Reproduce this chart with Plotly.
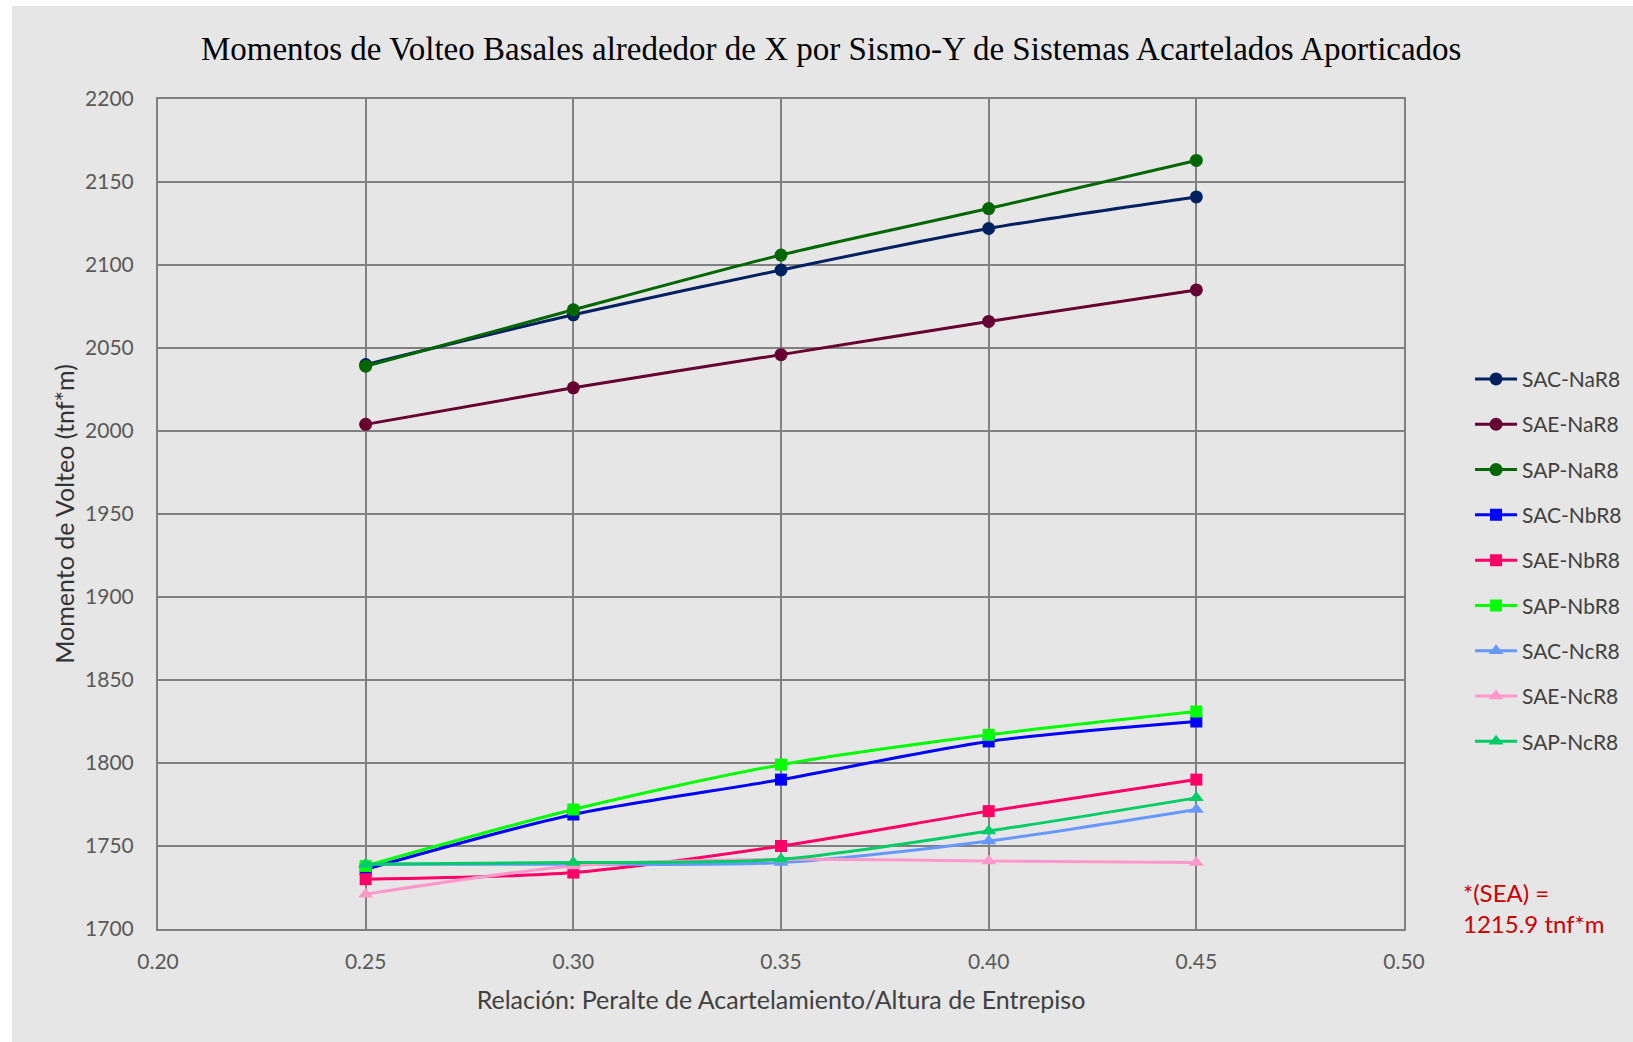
import plotly.graph_objects as go

# Relación peralte de acartelamiento / altura de entrepiso
relacion = [0.25, 0.30, 0.35, 0.40, 0.45]

# Momentos de volteo basales (tnf*m)
sac_nar8 = [2040, 2070, 2097, 2122, 2141]
sae_nar8 = [2004, 2026, 2046, 2066, 2085]
sap_nar8 = [2039, 2073, 2106, 2134, 2163]
sac_nbr8 = [1736, 1769, 1790, 1813, 1825]
sae_nbr8 = [1730, 1734, 1750, 1771, 1790]
sap_nbr8 = [1738, 1772, 1799, 1817, 1831]
sac_ncr8 = [1739, 1739, 1740, 1753, 1772]
sae_ncr8 = [1721, 1738, 1742, 1741, 1740]
sap_ncr8 = [1739, 1740, 1742, 1759, 1779]

series_names = ["SAC-NaR8", "SAE-NaR8", "SAP-NaR8",
                "SAC-NbR8", "SAE-NbR8", "SAP-NbR8",
                "SAC-NcR8", "SAE-NcR8", "SAP-NcR8"]
series_values = [sac_nar8, sae_nar8, sap_nar8,
                 sac_nbr8, sae_nbr8, sap_nbr8,
                 sac_ncr8, sae_ncr8, sap_ncr8]
series_colors = ["#002060", "#660033", "#006600",
                 "#0000ff", "#ff0066", "#00ff00",
                 "#6699ff", "#ff99cc", "#00cc66"]
series_symbols = ["circle"] * 3 + ["square"] * 3 + ["triangle-up"] * 3

BG = "#e6e6e6"
GRID = "#808080"
TXT = "#595959"
FONT = "Lato"

fig = go.Figure()
for name, vals, col, sym in zip(series_names, series_values, series_colors, series_symbols):
    fig.add_trace(go.Scatter(
        x=relacion, y=vals, name=name, legendgroup=name,
        mode="lines+markers",
        line=dict(color=col, width=3, shape="spline", smoothing=0.8),
        marker=dict(color=col, symbol=sym, size=13 if sym != "square" else 12),
    ))

fig.update_layout(
    width=1633, height=1042,
    margin=dict(l=158, r=229, t=99, b=113, autoexpand=False),
    paper_bgcolor=BG, plot_bgcolor=BG,
    font=dict(family=FONT, color=TXT, size=20),
    title=dict(
        text="Momentos de Volteo Basales alrededor de X por Sismo-Y de Sistemas Acartelados Aporticados",
        font=dict(family="Liberation Serif", size=33, color="#000000"),
        x=0.509, xref="container", xanchor="center",
        y=1 - 48 / 1042, yref="container", yanchor="middle",
    ),
    xaxis=dict(
        range=[0.20, 0.50], dtick=0.05, tickformat=".2f",
        showgrid=True, gridcolor=GRID, gridwidth=2,
        showline=True, linecolor=GRID, linewidth=2, mirror=True,
        zeroline=False, ticks="",
        tickfont=dict(family=FONT, size=21, color=TXT),
        ticklabelstandoff=13,
        title=dict(text="Relación: Peralte de Acartelamiento/Altura de Entrepiso",
                   font=dict(family=FONT, size=25, color="#404040"), standoff=19),
    ),
    yaxis=dict(
        range=[1700, 2200], dtick=50,
        showgrid=True, gridcolor=GRID, gridwidth=2,
        showline=True, linecolor=GRID, linewidth=2, mirror=True,
        zeroline=False, ticks="",
        tickfont=dict(family=FONT, size=21, color=TXT),
        ticklabelstandoff=18,
        title=dict(text="Momento de Volteo (tnf*m)",
                   font=dict(family=FONT, size=25, color="#333333"), standoff=3),
    ),
    legend=dict(
        x=1.053, xanchor="left", y=0.687, yanchor="top",
        bgcolor="rgba(0,0,0,0)",
        font=dict(family=FONT, size=21, color="#404040"),
        itemwidth=42,
        tracegroupgap=15,
    ),
    showlegend=True,
)

# white margin strips along the top and left edges of the page
fig.add_shape(type="rect", xref="paper", yref="paper",
              x0=-158 / 1246, x1=(1633 - 158) / 1246,
              y0=1 + (99 - 6) / 830, y1=1 + 99 / 830,
              fillcolor="white", line=dict(width=0), layer="below")
fig.add_shape(type="rect", xref="paper", yref="paper",
              x0=-158 / 1246, x1=-(158 - 12) / 1246,
              y0=-113 / 830, y1=1 + 99 / 830,
              fillcolor="white", line=dict(width=0), layer="below")

fig.add_annotation(
    text="*(SEA) =<br>1215.9 tnf*m",
    xref="paper", yref="paper",
    x=(1461 - 158) / 1246, y=(929 - 908) / 830,
    xanchor="left", yanchor="middle", align="left", showarrow=False,
    font=dict(family=FONT, size=24, color="#cc0000"),
)

fig.write_html("out.html")
